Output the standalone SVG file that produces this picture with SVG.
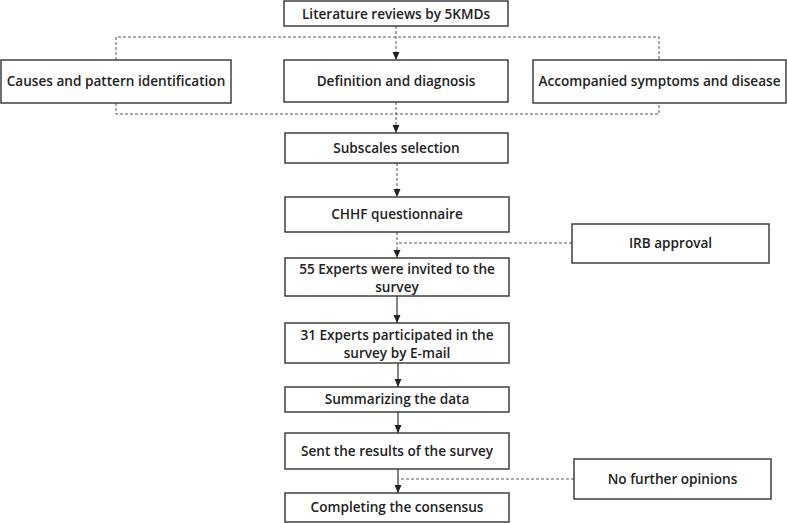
<svg xmlns="http://www.w3.org/2000/svg" width="787" height="523" viewBox="0 0 787 523">
<style>
.box{fill:#fff;stroke:#333;stroke-width:1.4}
.t{font-family:"Open Sans","Liberation Sans",sans-serif;font-weight:600;font-size:13.6px;fill:#222;text-anchor:middle}
.d{fill:none;stroke:#555;stroke-width:1;stroke-dasharray:3 2}
.s{fill:none;stroke:#333;stroke-width:1.2}
</style>
<defs>
<marker id="ah" viewBox="0 0 8 8" refX="8" refY="4" markerWidth="8" markerHeight="8" markerUnits="userSpaceOnUse" orient="auto">
<path d="M0,0.5 L8,4 L0,7.5 Z" fill="#222"/>
</marker>
</defs>
<rect width="787" height="523" fill="#fff"/>
<g id="connectors">
<path class="d" d="M396,26 V60" marker-end="url(#ah)"/>
<path class="d" d="M116,60 V37 H659 V60"/>
<path class="d" d="M116,103 V114 H659 V103"/>
<path class="d" d="M396,102 V133" marker-end="url(#ah)"/>
<path class="d" d="M397,163 V197" marker-end="url(#ah)"/>
<path class="d" d="M397,232 V258" marker-end="url(#ah)"/>
<path class="d" d="M572,243 H397"/>
<path class="s" d="M397,296 V323" marker-end="url(#ah)"/>
<path class="s" d="M398,363 V387" marker-end="url(#ah)"/>
<path class="s" d="M398,412 V433" marker-end="url(#ah)"/>
<path class="s" d="M398,469 V493" marker-end="url(#ah)"/>
<path class="d" d="M574,479 H398"/>
</g>
<g id="n1"><rect class="box" x="284" y="1" width="224" height="25"/><text class="t" x="396" y="18.5">Literature reviews by 5KMDs</text></g>
<g id="n2"><rect class="box" x="1" y="60" width="230" height="43"/><text class="t" x="116" y="86">Causes and pattern identification</text></g>
<g id="n3"><rect class="box" x="284" y="60" width="224" height="42"/><text class="t" x="396" y="86">Definition and diagnosis</text></g>
<g id="n4"><rect class="box" x="533" y="60" width="253" height="43"/><text class="t" x="659.5" y="86">Accompanied symptoms and disease</text></g>
<g id="n5"><rect class="box" x="285" y="133" width="223" height="30"/><text class="t" x="396.5" y="153">Subscales selection</text></g>
<g id="n6"><rect class="box" x="285" y="197" width="224" height="35"/><text class="t" x="397" y="219">CHHF questionnaire</text></g>
<g id="n7"><rect class="box" x="572" y="224" width="197" height="39"/><text class="t" x="670.5" y="248">IRB approval</text></g>
<g id="n8"><rect class="box" x="285" y="258" width="224" height="38"/><text class="t" x="397" y="274">55 Experts were invited to the</text><text class="t" x="397" y="292">survey</text></g>
<g id="n9"><rect class="box" x="285" y="323" width="224" height="40"/><text class="t" x="397" y="340">31 Experts participated in the</text><text class="t" x="397" y="358">survey by E-mail</text></g>
<g id="n10"><rect class="box" x="285" y="387" width="224" height="25"/><text class="t" x="397" y="404">Summarizing the data</text></g>
<g id="n11"><rect class="box" x="285" y="433" width="224" height="36"/><text class="t" x="397" y="456">Sent the results of the survey</text></g>
<g id="n12"><rect class="box" x="574" y="459" width="197" height="40"/><text class="t" x="672.5" y="484">No further opinions</text></g>
<g id="n13"><rect class="box" x="285" y="493" width="224" height="29"/><text class="t" x="397" y="512">Completing the consensus</text></g>
</svg>
